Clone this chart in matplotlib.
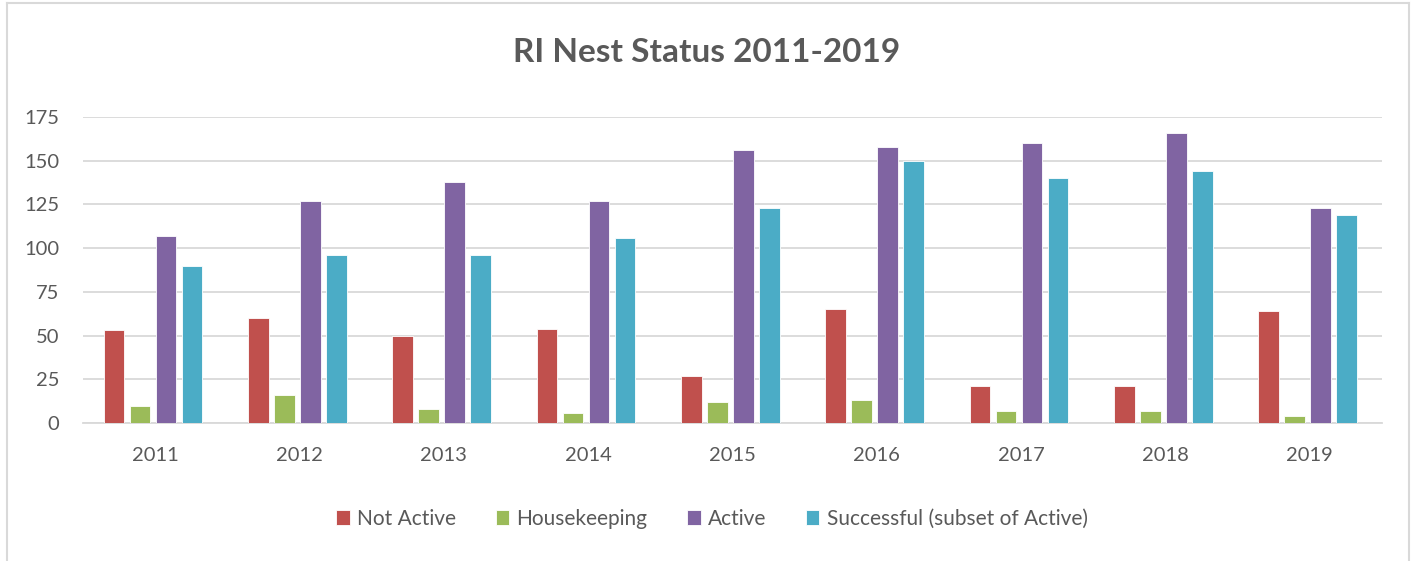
import numpy as np
import matplotlib
matplotlib.use("Agg")
import matplotlib.pyplot as plt
from matplotlib.lines import Line2D

plt.rcParams['font.family'] = ['Lato', 'DejaVu Sans']

# data
years = ['2011', '2012', '2013', '2014', '2015', '2016', '2017', '2018', '2019']
not_active = [53, 60, 50, 54, 27, 65, 21, 21, 64]
housekeeping = [10, 16, 8, 6, 12, 13, 7, 7, 4]
active = [107, 127, 138, 127, 156, 158, 160, 166, 123]
successful = [90, 96, 96, 106, 123, 150, 140, 144, 119]

series_names = ['Not Active', 'Housekeeping', 'Active', 'Successful (subset of Active)']
colors = ['#c0504d', '#9bbb59', '#8064a2', '#4bacc6']
text_col = '#595959'
grid_col = '#d9d9d9'

fig = plt.figure(figsize=(14.13, 5.61), dpi=100)
ax = fig.add_axes([83 / 1413, 1 - 423 / 561, (1382 - 83) / 1413, (423 - 117) / 561])

x = np.arange(len(years))
step = 0.18
width = 0.145
for i, (vals, name, c) in enumerate(zip([not_active, housekeeping, active, successful],
                                         series_names, colors)):
    ax.bar(x + (i - 1.5) * step - 0.015, vals, width, color=c, label=name,
           edgecolor='white', linewidth=0.6, zorder=3)

ax.set_xlim(-0.5, len(years) - 0.5)
ax.set_ylim(0, 175)
ax.set_yticks(np.arange(0, 176, 25))
ax.set_xticks(x)
ax.set_xticklabels(years)
ax.yaxis.grid(True, color=grid_col, linewidth=1.3, zorder=0)
ax.set_axisbelow(True)
for s in ['top', 'right', 'left']:
    ax.spines[s].set_visible(False)
ax.spines['bottom'].set_color(grid_col)
ax.spines['bottom'].set_linewidth(1.3)
ax.tick_params(axis='both', length=0, labelsize=14.5, labelcolor=text_col)
ax.tick_params(axis='y', pad=17)
ax.tick_params(axis='x', pad=17)

fig.text(707 / 1413, 1 - 53 / 561, 'RI Nest Status 2011-2019', ha='center', va='center',
         fontsize=24, fontweight='bold', color=text_col)

fig.legend(loc='center', bbox_to_anchor=(712 / 1413, 1 - 519 / 561), ncol=4,
           frameon=False, fontsize=15, labelcolor=text_col,
           handlelength=0.65, handleheight=0.75, handletextpad=0.35,
           columnspacing=1.9)

# light grey chart border (top, left, right)
bc = '#d9d9d9'
fig.add_artist(Line2D([7 / 1413, 7 / 1413], [0, 1 - 3 / 561], color=bc, lw=1.5,
                      transform=fig.transFigure))
fig.add_artist(Line2D([1409 / 1413, 1409 / 1413], [0, 1 - 3 / 561], color=bc, lw=1.5,
                      transform=fig.transFigure))
fig.add_artist(Line2D([7 / 1413, 1409 / 1413], [1 - 3 / 561, 1 - 3 / 561], color=bc, lw=1.5,
                      transform=fig.transFigure))

fig.savefig('out.png', dpi=100)
